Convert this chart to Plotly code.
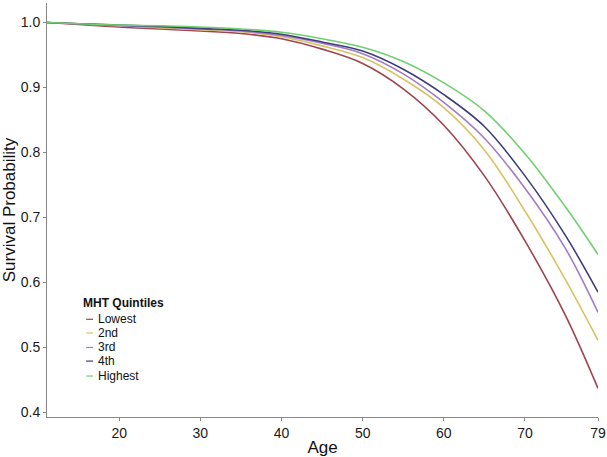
import plotly.graph_objects as go

ages = [11.1, 15, 20, 25, 30, 35, 40, 45, 50, 55, 60, 65, 70, 75, 79]

lowest  = [1.000, 0.997, 0.993, 0.990, 0.987, 0.983, 0.975, 0.959, 0.937, 0.898, 0.842, 0.764, 0.664, 0.549, 0.437]
second  = [1.000, 0.998, 0.995, 0.992, 0.989, 0.986, 0.978, 0.964, 0.946, 0.913, 0.869, 0.804, 0.710, 0.604, 0.511]
third   = [1.000, 0.998, 0.995, 0.993, 0.990, 0.987, 0.980, 0.968, 0.952, 0.921, 0.877, 0.822, 0.745, 0.652, 0.554]
fourth  = [1.000, 0.998, 0.996, 0.994, 0.991, 0.988, 0.982, 0.970, 0.956, 0.928, 0.889, 0.840, 0.764, 0.672, 0.585]
highest = [1.000, 0.998, 0.996, 0.995, 0.993, 0.990, 0.985, 0.975, 0.962, 0.940, 0.907, 0.864, 0.798, 0.716, 0.643]

series_names = ["Lowest", "2nd", "3rd", "4th", "Highest"]
series_values = [lowest, second, third, fourth, highest]
colors = ["#A0444E", "#D9C264", "#A27CC6", "#3E3E7C", "#6FD06F"]

x_tickvals = [20, 30, 40, 50, 60, 70, 79]
y_tickvals = [0.4, 0.5, 0.6, 0.7, 0.8, 0.9, 1.0]

fig = go.Figure()
for name, vals, col in zip(series_names, series_values, colors):
    fig.add_trace(go.Scatter(x=ages, y=vals, mode="lines", name=name,
                             line=dict(color=col, width=1.6, shape="spline", smoothing=1.0),
                             showlegend=False))

font_family = "Liberation Sans, Arial, sans-serif"

# custom legend (title + short line keys)
annotations = [dict(text="<b>MHT Quintiles</b>", xref="paper", yref="paper",
                    x=0.0617, y=0.276, xanchor="left", yanchor="middle",
                    showarrow=False, font=dict(size=12, color="#111", family=font_family))]
shapes = []
item_y = [0.236, 0.203, 0.168, 0.135, 0.099]
for name, col, yy in zip(series_names, colors, item_y):
    annotations.append(dict(text=name, xref="paper", yref="paper", x=0.0885, y=yy,
                            xanchor="left", yanchor="middle", showarrow=False,
                            font=dict(size=12, color="#111", family=font_family)))
    shapes.append(dict(type="line", xref="paper", yref="paper", x0=0.071, x1=0.0835,
                       y0=yy, y1=yy, line=dict(color=col, width=1.2)))

fig.update_layout(
    width=607, height=457,
    margin=dict(l=47, r=9, t=3, b=40),
    paper_bgcolor="white", plot_bgcolor="white",
    font=dict(family=font_family, color="#222"),
    annotations=annotations, shapes=shapes,
    xaxis=dict(range=[11.1, 79], tickvals=x_tickvals, ticks="outside", ticklen=3,
               tickcolor="#888", showline=True, linecolor="#888", linewidth=1,
               showgrid=False, zeroline=False, tickfont=dict(size=14, color="#1a1a1a"),
               automargin=False, ticklabeloverflow="allow",
               title=dict(text="Age", font=dict(size=17, color="#111"), standoff=1)),
    yaxis=dict(range=[0.393, 1.03], tickvals=y_tickvals, tickformat=".1f", ticks="outside",
               ticklen=3, tickcolor="#888", showline=True, linecolor="#888", linewidth=1,
               showgrid=False, zeroline=False, tickfont=dict(size=14, color="#1a1a1a"),
               automargin=False, ticklabeloverflow="allow",
               title=dict(text="Survival Probability", font=dict(size=17, color="#111"), standoff=2)),
)

fig.write_html("out.html", config={"displayModeBar": False},
               post_script="document.body.style.margin='0px';document.body.style.overflow='hidden';")
